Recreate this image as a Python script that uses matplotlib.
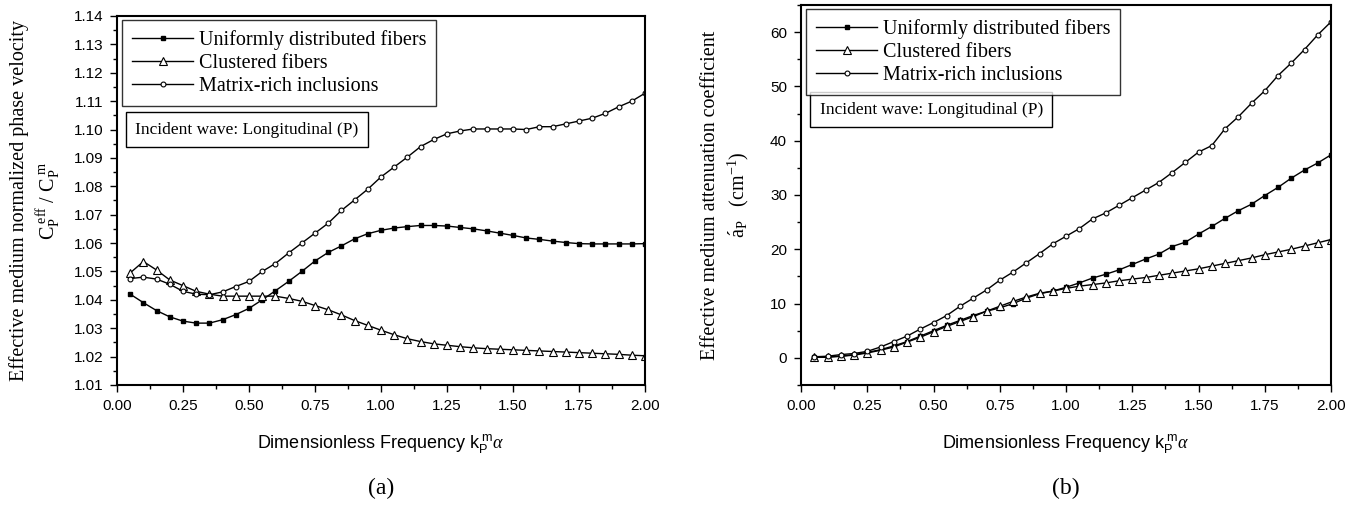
import matplotlib
matplotlib.use("Agg")
import matplotlib.pyplot as plt
from matplotlib.ticker import MultipleLocator, FormatStrFormatter

plt.rcParams['mathtext.fontset'] = 'custom'
plt.rcParams['mathtext.rm'] = 'Liberation Serif'
plt.rcParams['mathtext.it'] = 'Liberation Serif:italic'
plt.rcParams['mathtext.sf'] = 'Liberation Sans'

freq = [0.05, 0.10, 0.15, 0.20, 0.25, 0.30, 0.35, 0.40, 0.45, 0.50,
        0.55, 0.60, 0.65, 0.70, 0.75, 0.80, 0.85, 0.90, 0.95, 1.00,
        1.05, 1.10, 1.15, 1.20, 1.25, 1.30, 1.35, 1.40, 1.45, 1.50,
        1.55, 1.60, 1.65, 1.70, 1.75, 1.80, 1.85, 1.90, 1.95, 2.00]

series_names = ["Uniformly distributed fibers", "Clustered fibers", "Matrix-rich inclusions"]

# (a) normalized phase velocity
vel_uniform = [1.0420, 1.0390, 1.0362, 1.0340, 1.0325, 1.0318, 1.0318, 1.0330, 1.0348, 1.0370,
               1.0400, 1.0432, 1.0465, 1.0500, 1.0537, 1.0567, 1.0590, 1.0615, 1.0633, 1.0645,
               1.0653, 1.0658, 1.0662, 1.0662, 1.0660, 1.0655, 1.0650, 1.0643, 1.0635, 1.0627,
               1.0618, 1.0613, 1.0607, 1.0602, 1.0598, 1.0597, 1.0597, 1.0597, 1.0597, 1.0598]
vel_clustered = [1.0495, 1.0535, 1.0505, 1.0470, 1.0450, 1.0430, 1.0420, 1.0413, 1.0413, 1.0413,
                 1.0413, 1.0413, 1.0405, 1.0395, 1.0380, 1.0365, 1.0347, 1.0327, 1.0310, 1.0293,
                 1.0277, 1.0263, 1.0253, 1.0245, 1.0240, 1.0235, 1.0231, 1.0228, 1.0226, 1.0224,
                 1.0222, 1.0220, 1.0218, 1.0216, 1.0214, 1.0212, 1.0210, 1.0208, 1.0205, 1.0203]
vel_matrix = [1.0475, 1.0480, 1.0473, 1.0455, 1.0430, 1.0420, 1.0418, 1.0428, 1.0447, 1.0465,
              1.0500, 1.0528, 1.0565, 1.0600, 1.0635, 1.0670, 1.0715, 1.0752, 1.0790, 1.0833,
              1.0868, 1.0903, 1.0940, 1.0965, 1.0985, 1.0995, 1.1002, 1.1002, 1.1002, 1.1002,
              1.1000, 1.1010, 1.1010, 1.1020, 1.1030, 1.1040, 1.1057, 1.1080, 1.1100, 1.1128]

# (b) attenuation coefficient
att_uniform = [0.2, 0.2, 0.3, 0.6, 1.0, 1.5, 2.2, 3.0, 4.0, 5.0,
               6.0, 6.9, 7.8, 8.6, 9.2, 10.0, 11.0, 11.8, 12.3, 13.0,
               13.8, 14.7, 15.4, 16.2, 17.2, 18.2, 19.1, 20.5, 21.3, 22.8,
               24.2, 25.7, 27.1, 28.3, 29.9, 31.4, 33.1, 34.6, 35.9, 37.4]
att_clustered = [0.1, 0.1, 0.3, 0.5, 0.9, 1.4, 2.0, 2.9, 3.8, 4.8,
                 5.8, 6.7, 7.6, 8.6, 9.5, 10.4, 11.2, 11.9, 12.3, 12.8,
                 13.2, 13.5, 13.8, 14.2, 14.5, 14.8, 15.2, 15.6, 16.0, 16.4,
                 16.9, 17.4, 17.9, 18.4, 19.0, 19.5, 20.0, 20.6, 21.2, 21.8]
att_matrix = [0.2, 0.3, 0.6, 0.8, 1.2, 2.0, 3.0, 4.0, 5.3, 6.5,
              7.8, 9.5, 11.0, 12.5, 14.3, 15.8, 17.5, 19.2, 21.0, 22.4,
              23.8, 25.6, 26.7, 28.1, 29.5, 30.9, 32.3, 34.1, 36.0, 37.9,
              39.1, 42.2, 44.4, 46.9, 49.2, 52.0, 54.3, 56.8, 59.5, 61.9]

xticks = [0.00, 0.25, 0.50, 0.75, 1.00, 1.25, 1.50, 1.75, 2.00]

SERIF = 'Liberation Serif'
SANS = 'Liberation Sans'

fig = plt.figure(figsize=(13.64, 5.08), dpi=100)
axA = fig.add_axes([117/1364, 123/508, 528/1364, 369/508])
axB = fig.add_axes([801/1364, 123/508, 530/1364, 380/508])

styles = [dict(marker='s', ms=3.5, mfc='black', mec='black'),
          dict(marker='^', ms=6, mfc='white', mec='black', mew=0.8),
          dict(marker='o', ms=3.5, mfc='white', mec='black', mew=0.8)]

def draw(ax, data):
    handles = []
    for name, ys, st in zip(series_names, data, styles):
        h, = ax.plot(freq, ys, color='black', lw=1.0, label=name, **st)
        handles.append(h)
    return handles

hA = draw(axA, [vel_uniform, vel_clustered, vel_matrix])
hB = draw(axB, [att_uniform, att_clustered, att_matrix])

for ax in (axA, axB):
    ax.set_xlim(0, 2.0)
    ax.set_xticks(xticks)
    ax.xaxis.set_major_formatter(FormatStrFormatter('%.2f'))
    ax.xaxis.set_minor_locator(MultipleLocator(0.125))
    for s in ax.spines.values():
        s.set_linewidth(1.5)
    ax.tick_params(which='both', direction='out', top=False, right=False, width=1.0,
                   labelsize=11, pad=5)
    ax.tick_params(which='major', length=5)
    ax.tick_params(which='minor', length=3)
    for lbl in ax.get_xticklabels() + ax.get_yticklabels():
        lbl.set_fontfamily(SANS)
    ax.set_xlabel(r'Dimensionless Frequency $\mathsf{k_P^{\ m}}\mathit{\alpha}$',
                  fontfamily=SANS, fontsize=13, labelpad=14)

axA.set_ylim(1.01, 1.14)
axA.yaxis.set_major_locator(MultipleLocator(0.01))
axA.yaxis.set_minor_locator(MultipleLocator(0.005))
axA.yaxis.set_major_formatter(FormatStrFormatter('%.2f'))
axA.set_ylabel('Effective medium normalized phase velocity\n'
               r'$\mathrm{C_P^{\ eff}\ /\ C_P^{\ m}}$',
               fontfamily=SERIF, fontsize=14.5, labelpad=8, linespacing=1.3)

axB.set_ylim(-5, 65)
axB.yaxis.set_major_locator(MultipleLocator(10))
axB.yaxis.set_minor_locator(MultipleLocator(5))
axB.set_ylabel('Effective medium attenuation coefficient\n'
               r'$\mathrm{\acute{a}_P\quad (cm^{-1})}$',
               fontfamily=SERIF, fontsize=14.5, labelpad=14, linespacing=1.3)

for ax, hs, loc in ((axA, hA, (0.01, 0.99)), (axB, hB, (0.01, 0.99))):
    leg = ax.legend(handles=hs, loc='upper left', bbox_to_anchor=loc,
                    prop={'family': SERIF, 'size': 14.5}, frameon=True, fancybox=False,
                    edgecolor='black', handlelength=3.0, handletextpad=0.3,
                    borderpad=0.5, labelspacing=0.2, borderaxespad=0.0, markerscale=1.0)
    leg.get_frame().set_linewidth(1.0)

axA.text(0.035, 0.692, 'Incident wave: Longitudinal (P)', transform=axA.transAxes,
         fontfamily=SERIF, fontsize=12.5, ha='left', va='center',
         bbox=dict(boxstyle='square,pad=0.55', fc='white', ec='black', lw=1.0))
axB.text(0.035, 0.725, 'Incident wave: Longitudinal (P)', transform=axB.transAxes,
         fontfamily=SERIF, fontsize=12.5, ha='left', va='center',
         bbox=dict(boxstyle='square,pad=0.55', fc='white', ec='black', lw=1.0))

fig.text((117 + 264)/1364, 20/508, '(a)', fontfamily=SERIF, fontsize=17, ha='center', va='center')
fig.text((801 + 265)/1364, 20/508, '(b)', fontfamily=SERIF, fontsize=17, ha='center', va='center')

fig.savefig('out.png', dpi=100)
